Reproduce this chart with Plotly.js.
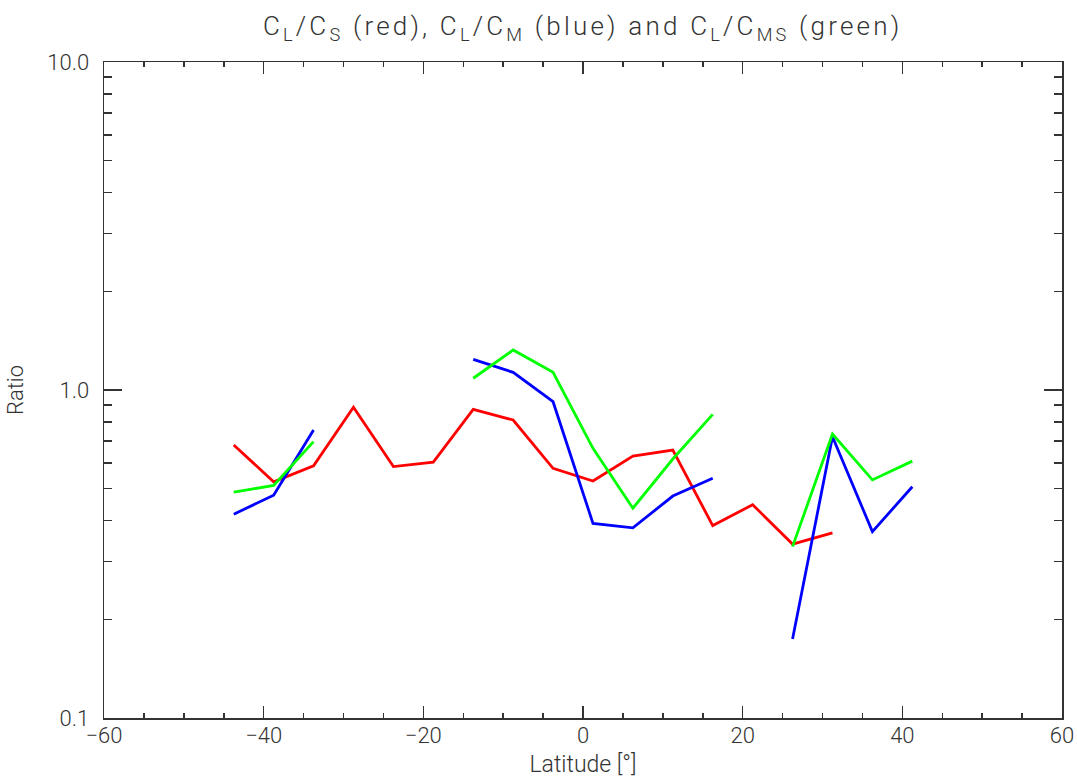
<!DOCTYPE html>
<html>
<head>
<meta charset="utf-8">
<script src="https://cdn.plot.ly/plotly-3.0.1.min.js"></script>
<style>
html,body{margin:0;padding:0;background:#fff;}
#chart{width:1077px;height:778px;}
#chart .gtitle{letter-spacing:3.2px;}
</style>
</head>
<body>
<div id="chart"></div>
<script>
const latitude = [-43.75, -38.75, -33.75, -28.75, -23.75, -18.75, -13.75, -8.75, -3.75, 1.25, 6.25, 11.25, 16.25, 21.25, 26.25, 31.25, 36.25, 41.25];
const ratioCS  = [0.680, 0.525, 0.587, 0.886, 0.584, 0.603, 0.873, 0.810, 0.577, 0.528, 0.629, 0.656, 0.386, 0.447, 0.339, 0.367, null, null];
const ratioCM  = [0.418, 0.478, 0.755, null, null, null, 1.240, 1.132, 0.921, 0.392, 0.380, 0.475, 0.538, null, 0.174, 0.720, 0.370, 0.507];
const ratioCMS = [0.488, 0.512, 0.696, null, null, null, 1.086, 1.324, 1.132, 0.664, 0.436, 0.616, 0.843, null, 0.333, 0.734, 0.532, 0.607];
const yTickVals = [0.1, 1, 10];
const yTickText = ['0.1', '1.0', '10.0'];

const FONT = 'Roboto, "Open Sans", "DejaVu Sans", sans-serif';
const TXT = '#333333';
const AX = '#333333';

function series(y, color) {
  return {x: latitude, y: y, type: 'scatter', mode: 'lines', connectgaps: false,
          line: {color: color, width: 2.8}, hoverinfo: 'x+y', showlegend: false};
}

const data = [series(ratioCS, '#ff0000'), series(ratioCM, '#0000ff'), series(ratioCMS, '#00ff00')];

const layout = {
  width: 1077, height: 778,
  margin: {l: 104, r: 15, t: 62, b: 60},
  paper_bgcolor: '#ffffff', plot_bgcolor: '#ffffff',
  font: {family: FONT, color: TXT, size: 22, weight: 300},
  title: {text: 'C<sub>L</sub>/C<sub>S</sub> (red), C<sub>L</sub>/C<sub>M</sub> (blue) and C<sub>L</sub>/C<sub>MS</sub> (green)',
          x: 0.541, xanchor: 'center', y: 0.978, yanchor: 'top',
          font: {family: FONT, size: 26, color: TXT, weight: 300}},
  xaxis: {range: [-60, 60], tickmode: 'linear', tick0: -60, dtick: 20,
          ticks: 'inside', ticklen: 12, tickwidth: 1.5, tickcolor: AX,
          minor: {dtick: 5, ticks: 'inside', ticklen: 5, tickwidth: 1.5, tickcolor: AX},
          showline: true, linecolor: AX, linewidth: 1.5, mirror: 'allticks',
          showgrid: false, zeroline: false, ticklabelstandoff: -3,
          tickfont: {family: FONT, size: 22, color: TXT, weight: 300},
          title: {text: 'Latitude [°]', font: {family: FONT, size: 23, color: TXT, weight: 300}, standoff: 11}},
  yaxis: {type: 'log', range: [-1, 1], tickmode: 'array', tickvals: yTickVals, ticktext: yTickText,
          ticks: 'inside', ticklen: 18, tickwidth: 1.5, tickcolor: AX,
          minor: {dtick: 'D1', ticks: 'inside', ticklen: 8, tickwidth: 1.5, tickcolor: AX},
          showline: true, linecolor: AX, linewidth: 1.5, mirror: 'allticks',
          showgrid: false, zeroline: false, ticklabelstandoff: 9,
          tickfont: {family: FONT, size: 22, color: TXT, weight: 300},
          title: {text: 'Ratio', font: {family: FONT, size: 22, color: TXT, weight: 300}, standoff: 17}}
};

Plotly.newPlot('chart', data, layout, {staticPlot: true});
</script>
</body>
</html>
